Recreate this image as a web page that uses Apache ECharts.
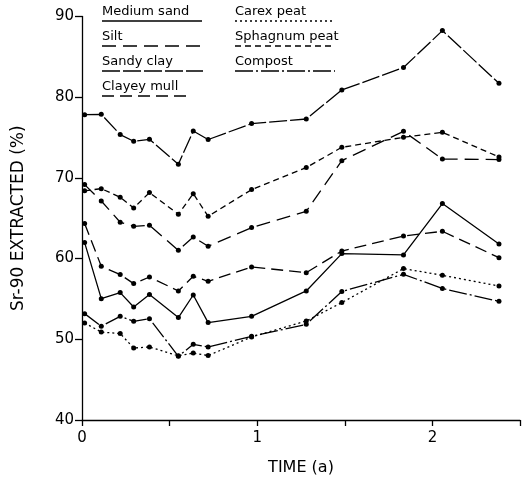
<!DOCTYPE html>
<html>
<head>
<meta charset="utf-8">
<script src="https://cdn.jsdelivr.net/npm/echarts@6/dist/echarts.min.js"></script>
<style>html,body{margin:0;padding:0;background:#fff}#c{width:523px;height:482px}</style>
</head>
<body>
<div id="c"></div>
<script>
// Sampling times (years)
var times = [0.015, 0.11, 0.218, 0.295, 0.385, 0.55, 0.635, 0.72, 0.968, 1.28, 1.483, 1.835, 2.057, 2.38];
// Sr-90 extracted (%)
var sandyClay    = [77.84, 77.88, 75.37, 74.54, 74.78, 71.69, 75.81, 74.75, 76.73, 77.30, 80.89, 83.67, 88.25, 81.72];
var sphagnumPeat = [68.4, 68.67, 67.6, 66.27, 68.18, 65.49, 68.05, 65.24, 68.55, 71.28, 73.79, 75.03, 75.65, 72.59];
var silt         = [69.17, 67.14, 64.5, 64.0, 64.13, 61.03, 62.68, 61.53, 63.84, 65.86, 72.14, 75.77, 72.34, 72.27];
var clayeyMull   = [64.34, 59.05, 58.02, 56.9, 57.72, 55.99, 57.81, 57.19, 58.96, 58.26, 60.94, 62.8, 63.38, 60.12];
var mediumSand   = [61.98, 55.04, 55.79, 54.0, 55.54, 52.69, 55.49, 52.07, 52.85, 55.99, 60.62, 60.45, 66.82, 61.81];
var compost      = [53.18, 51.61, 52.85, 52.23, 52.56, 47.89, 49.38, 49.05, 50.37, 51.85, 55.93, 58.05, 56.3, 54.7];
var carexPeat    = [52.02, 50.9, 50.71, 48.92, 49.05, 47.95, 48.3, 47.98, 50.29, 52.27, 54.55, 58.76, 57.93, 56.6];

var yTicks = [40, 50, 60, 70, 80, 90];
var xTickLabels = [0, 1, 2];

var seriesDefs = [
  {name: 'Medium sand',   data: mediumSand,   dash: 'solid'},
  {name: 'Silt',          data: silt,         dash: [14, 7]},
  {name: 'Sandy clay',    data: sandyClay,    dash: [18, 3]},
  {name: 'Clayey mull',   data: clayeyMull,   dash: [12, 6]},
  {name: 'Carex peat',    data: carexPeat,    dash: [2, 3]},
  {name: 'Sphagnum peat', data: sphagnumPeat, dash: [6, 4]},
  {name: 'Compost',       data: compost,      dash: [18, 3, 2, 3]}
];

function pairs(arr){ return arr.map(function(v,i){ return [times[i], v]; }); }

var FONT = 'DejaVu Sans';
var series = seriesDefs.map(function(s){
  return {
    name: s.name, type: 'line', data: pairs(s.data),
    symbol: 'circle', symbolSize: 5,
    itemStyle: {color: '#000'},
    lineStyle: {color: '#000', width: 1.3, type: s.dash},
    animation: false, silent: true
  };
});

// legend drawn as text with sample line underneath
var legendPos = [
  {x: 102, y: 5,  lx2: 202},
  {x: 102, y: 30, lx2: 203},
  {x: 102, y: 55, lx2: 203},
  {x: 102, y: 80, lx2: 191},
  {x: 235, y: 5,  lx2: 335},
  {x: 235, y: 30, lx2: 335},
  {x: 235, y: 55, lx2: 335}
];
var graphics = [];
seriesDefs.forEach(function(s, i){
  var p = legendPos[i];
  graphics.push({type: 'text', left: p.x, top: p.y, silent: true,
    style: {text: s.name, font: '13px "' + FONT + '"', fill: '#000'}});
  graphics.push({type: 'line', silent: true,
    shape: {x1: p.x, y1: p.y + 16, x2: p.lx2, y2: p.y + 16},
    style: {stroke: '#000', lineWidth: 1.3, lineDash: s.dash === 'solid' ? null : s.dash}});
});

var chart = echarts.init(document.getElementById('c'), null, {renderer: 'canvas'});
chart.setOption({
  animation: false,
  backgroundColor: '#fff',
  grid: {left: 82, right: 1, top: 16.5, bottom: 62, containLabel: false},
  xAxis: {
    type: 'value', min: 0, max: 2.5, interval: 0.5,
    name: 'TIME (a)', nameLocation: 'middle', nameGap: 40,
    nameTextStyle: {fontFamily: FONT, fontSize: 16, color: '#000'},
    axisLine: {show: true, onZero: false, lineStyle: {color: '#000', width: 1.3}},
    axisTick: {show: true, inside: false, length: 6, lineStyle: {color: '#000', width: 1.3}},
    axisLabel: {fontFamily: FONT, fontSize: 15, color: '#000', margin: 11,
      formatter: function(v){ return xTickLabels.indexOf(v) >= 0 ? String(v) : ''; }},
    splitLine: {show: false}
  },
  yAxis: {
    type: 'value', min: 40, max: 90, interval: 10,
    name: 'Sr-90 EXTRACTED (%)', nameLocation: 'middle', nameGap: 55,
    nameTextStyle: {fontFamily: FONT, fontSize: 17, color: '#000'},
    axisLine: {show: true, lineStyle: {color: '#000', width: 1.3}},
    axisTick: {show: true, inside: false, length: 7, lineStyle: {color: '#000', width: 1.3}},
    axisLabel: {fontFamily: FONT, fontSize: 15, color: '#000', margin: 8,
      formatter: function(v){ return yTicks.indexOf(v) >= 0 ? String(v) : ''; }},
    splitLine: {show: false}
  },
  graphic: graphics,
  series: series
});
</script>
</body>
</html>
